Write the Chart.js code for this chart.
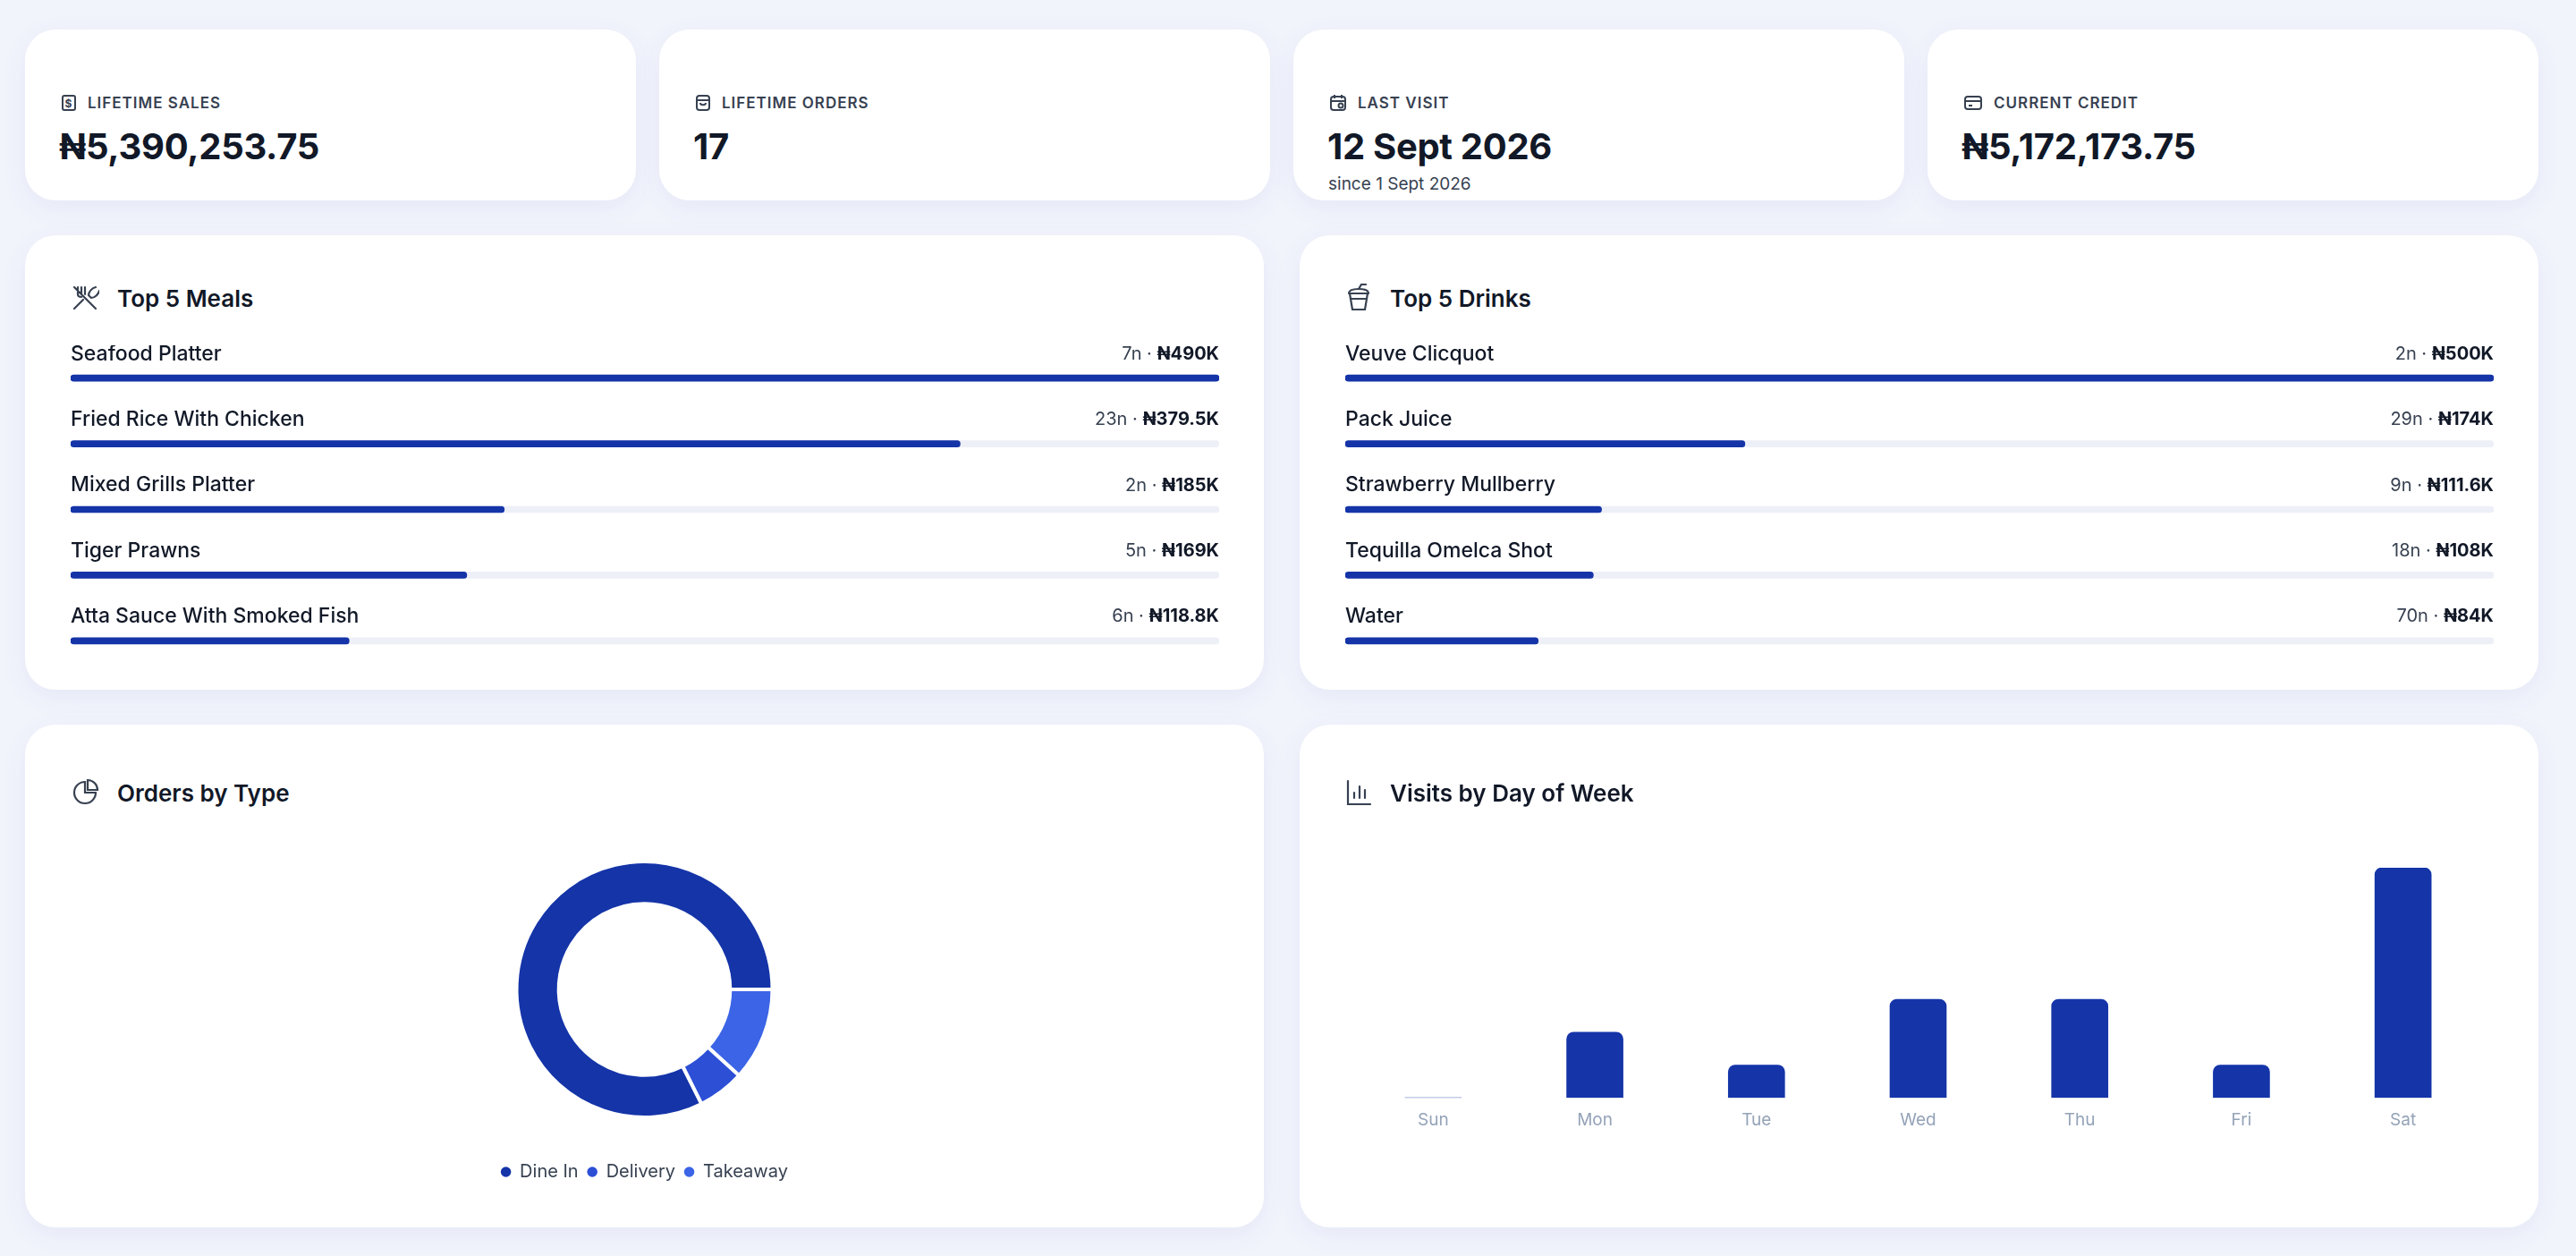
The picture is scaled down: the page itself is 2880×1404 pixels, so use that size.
<!DOCTYPE html>
<html>
<head>
<meta charset="utf-8">
<script src="https://cdn.jsdelivr.net/npm/chart.js@4.4.0/dist/chart.umd.min.js"></script>
<style>
  html, body { margin: 0; padding: 0; }
  body {
    width: 2880px; height: 1404px; background: #f2f4fc; position: relative; overflow: hidden;
    font-family: Inter, "Noto Sans", sans-serif; color: #111827;
  }
  .card {
    position: absolute; background: #fff; border-radius: 34px;
    box-shadow: 0 8px 30px rgba(60, 80, 170, 0.07);
  }
  .stat-label {
    position: absolute; left: 40px; top: 72px; font-size: 17px; font-weight: 600;
    letter-spacing: 1px; color: #374151; display: flex; align-items: center; gap: 12px;
  }
  .stat-value { position: absolute; left: 38px; top: 106px; font-size: 40px; font-weight: 700; letter-spacing: -0.3px; }
  .stat-sub { position: absolute; left: 39px; top: 161px; font-size: 19px; color: #374151; }
  .title {
    position: absolute; left: 51px; top: 54px; font-size: 26px; font-weight: 600;
    display: flex; align-items: center; gap: 20px;
  }
  .box { position: absolute; }
  svg { display: block; }
</style>
</head>
<body>

<div class="card" style="left:28px;top:33px;width:683px;height:191px">
  <div class="stat-label"><svg width="18" height="20" viewBox="0 0 18 20" fill="none" stroke="#374151" stroke-width="2"><rect x="2" y="2" width="14" height="16" rx="2"/><text x="9" y="15" font-size="12" text-anchor="middle" fill="#374151" stroke="none" font-weight="700">$</text></svg>LIFETIME SALES</div>
  <div class="stat-value">₦5,390,253.75</div>
</div>
<div class="card" style="left:737px;top:33px;width:683px;height:191px">
  <div class="stat-label"><svg width="18" height="20" viewBox="0 0 18 20" fill="none" stroke="#374151" stroke-width="2"><rect x="2" y="2" width="14" height="16" rx="3"/><path d="M2 7h14M6 10c0 3 6 3 6 0"/></svg>LIFETIME ORDERS</div>
  <div class="stat-value">17</div>
</div>
<div class="card" style="left:1446px;top:33px;width:683px;height:191px">
  <div class="stat-label"><svg width="20" height="20" viewBox="0 0 20 20" fill="none" stroke="#374151" stroke-width="2"><rect x="2" y="3" width="16" height="15" rx="3"/><path d="M2 8h16M6 1v4M14 1v4"/><circle cx="13" cy="13" r="2.5"/></svg>LAST VISIT</div>
  <div class="stat-value">12 Sept 2026</div>
  <div class="stat-sub">since 1 Sept 2026</div>
</div>
<div class="card" style="left:2155px;top:33px;width:683px;height:191px">
  <div class="stat-label"><svg width="22" height="18" viewBox="0 0 22 18" fill="none" stroke="#374151" stroke-width="2"><rect x="2" y="2" width="18" height="14" rx="3"/><path d="M2 7h18M6 12h4"/></svg>CURRENT CREDIT</div>
  <div class="stat-value">₦5,172,173.75</div>
</div>

<div class="card" style="left:28px;top:263px;width:1385px;height:508px">
  <div class="title"><svg width="32" height="32" viewBox="0 0 32 32" fill="none" stroke="#374151" stroke-width="2.2" stroke-linecap="round"><path d="M4 4l24 24M4 28l10-10M8 4v8c0 2 2 3 4 3M12 4v7M16 4v8"/><path d="M28 4c-4 1-8 5-8 9l3 3c4 0 8-4 9-8"/></svg>Top 5 Meals</div>
  <div class="box" style="left:51px;top:123px;width:1284px;height:367px"><canvas id="mealsChart"></canvas></div>
</div>
<div class="card" style="left:1453px;top:263px;width:1385px;height:508px">
  <div class="title"><svg width="30" height="32" viewBox="0 0 30 32" fill="none" stroke="#374151" stroke-width="2.2" stroke-linecap="round"><path d="M5 11h20l-3 18H8z"/><path d="M4 11c0-4 5-5 11-5s11 1 11 5"/><path d="M15 6l3-5h5"/><path d="M6 17h18"/></svg>Top 5 Drinks</div>
  <div class="box" style="left:51px;top:123px;width:1284px;height:367px"><canvas id="drinksChart"></canvas></div>
</div>

<div class="card" style="left:28px;top:810px;width:1385px;height:562px">
  <div class="title" style="top:60px"><svg width="32" height="32" viewBox="0 0 32 32" fill="none" stroke="#374151" stroke-width="2.2"><path d="M16 4a12 12 0 1 0 12 12H16z"/><path d="M19 2v11h11A11 11 0 0 0 19 2z"/></svg>Orders by Type</div>
  <div class="box" style="left:0;top:112px;width:1385px;height:408px"><canvas id="typeChart"></canvas></div>
</div>
<div class="card" style="left:1453px;top:810px;width:1385px;height:562px">
  <div class="title" style="top:60px"><svg width="30" height="32" viewBox="0 0 30 32" fill="none" stroke="#374151" stroke-width="2.2" stroke-linecap="round"><path d="M3 3v26h25M10 22v-6M16 22V9M22 22v-9"/></svg>Visits by Day of Week</div>
  <div class="box" style="left:59px;top:150px;width:1265px;height:310px"><canvas id="visitsChart"></canvas></div>
</div>

<script>
// top 5 meals
const mealNames = ['Seafood Platter', 'Fried Rice With Chicken', 'Mixed Grills Platter', 'Tiger Prawns', 'Atta Sauce With Smoked Fish'];
const mealCounts = [7, 23, 2, 5, 6];
const mealSalesK = [490, 379.5, 185, 169, 118.8];

// top 5 drinks
const drinkNames = ['Veuve Clicquot', 'Pack Juice', 'Strawberry Mullberry', 'Tequilla Omelca Shot', 'Water'];
const drinkCounts = [2, 29, 9, 18, 70];
const drinkSalesK = [500, 174, 111.6, 108, 84];

// orders by type (legend order) and slice draw order
const orderTypes = ['Dine In', 'Delivery', 'Takeaway'];
const orderCounts = [14, 1, 2];
const typeColors = ['#1434a8', '#2c4fd6', '#3b64e6'];

// visits
const days = ['Sun', 'Mon', 'Tue', 'Wed', 'Thu', 'Fri', 'Sat'];
const visits = [0, 2, 1, 3, 3, 1, 7];

const BLUE = '#1434a8';

const rowText = {
    id: 'rowText',
    afterDatasetsDraw(chart, args, opts) {
        const { ctx, chartArea } = chart;
        const yScale = chart.scales.y;
        ctx.save();
        ctx.textBaseline = 'middle';
        opts.names.forEach((name, i) => {
            const y = yScale.getPixelForValue(i) - 27;
            ctx.fillStyle = '#111827';
            ctx.font = '500 23px Inter';
            ctx.textAlign = 'left';
            ctx.fillText(name, chartArea.left, y);
            const money = '₦' + opts.sales[i] + 'K';
            ctx.textAlign = 'right';
            ctx.font = '700 20px Inter';
            ctx.fillText(money, chartArea.right, y);
            const w = ctx.measureText(money).width;
            ctx.font = '400 20px Inter';
            ctx.fillStyle = '#374151';
            ctx.fillText(opts.counts[i] + 'n · ', chartArea.right - w, y);
        });
        ctx.restore();
    }
};

function topChart(id, names, counts, sales) {
    const max = Math.max(...sales);
    new Chart(document.getElementById(id), {
        type: 'bar',
        data: {
            labels: names,
            datasets: [
                { data: sales, backgroundColor: BLUE, barThickness: 7, borderRadius: 4, borderSkipped: false, order: 1 },
                { data: names.map(() => max), backgroundColor: '#eef0f8', barThickness: 7, borderRadius: 4, borderSkipped: false, grouped: false, order: 2 }
            ]
        },
        options: {
            indexAxis: 'y',
            responsive: true,
            maintainAspectRatio: false,
            animation: false,
            layout: { padding: 0 },
            scales: {
                x: { display: false, min: 0, max: max },
                y: { display: false }
            },
            plugins: {
                legend: { display: false },
                tooltip: { enabled: false },
                rowText: { names: names, counts: counts, sales: sales }
            }
        },
        plugins: [rowText]
    });
}

topChart('mealsChart', mealNames, mealCounts, mealSalesK);
topChart('drinksChart', drinkNames, drinkCounts, drinkSalesK);

// slices go clockwise Dine In, Takeaway, Delivery
const sliceOrder = [0, 2, 1];
new Chart(document.getElementById('typeChart'), {
    type: 'doughnut',
    data: {
        labels: sliceOrder.map(i => orderTypes[i]),
        datasets: [{
            data: sliceOrder.map(i => orderCounts[i]),
            backgroundColor: sliceOrder.map(i => typeColors[i]),
            borderColor: '#ffffff',
            borderWidth: 4,
            radius: 143
        }]
    },
    options: {
        responsive: true,
        maintainAspectRatio: false,
        animation: false,
        cutout: '67%',
        rotation: 153.5,
        plugins: {
            tooltip: { enabled: false },
            legend: {
                position: 'bottom',
                labels: {
                    usePointStyle: true, pointStyle: 'circle', boxWidth: 11, boxHeight: 11,
                    padding: 10, color: '#374151', font: { family: 'Inter', size: 20 },
                    sort: (a, b) => orderTypes.indexOf(a.text) - orderTypes.indexOf(b.text)
                }
            }
        }
    }
});

new Chart(document.getElementById('visitsChart'), {
    type: 'bar',
    data: {
        labels: days,
        datasets: [{ data: visits, backgroundColor: BLUE, barThickness: 63, borderRadius: { topLeft: 8, topRight: 8 }, borderSkipped: 'start' }]
    },
    options: {
        responsive: true,
        maintainAspectRatio: false,
        animation: false,
        layout: { padding: { top: 10 } },
        scales: {
            x: {
                grid: { display: false }, border: { display: false },
                ticks: { color: '#94a3b8', font: { family: 'Inter', size: 19 }, padding: 6 }
            },
            y: { display: false, min: 0, max: 7 }
        },
        plugins: { legend: { display: false }, tooltip: { enabled: false } }
    }
});
</script>
</body>
</html>
